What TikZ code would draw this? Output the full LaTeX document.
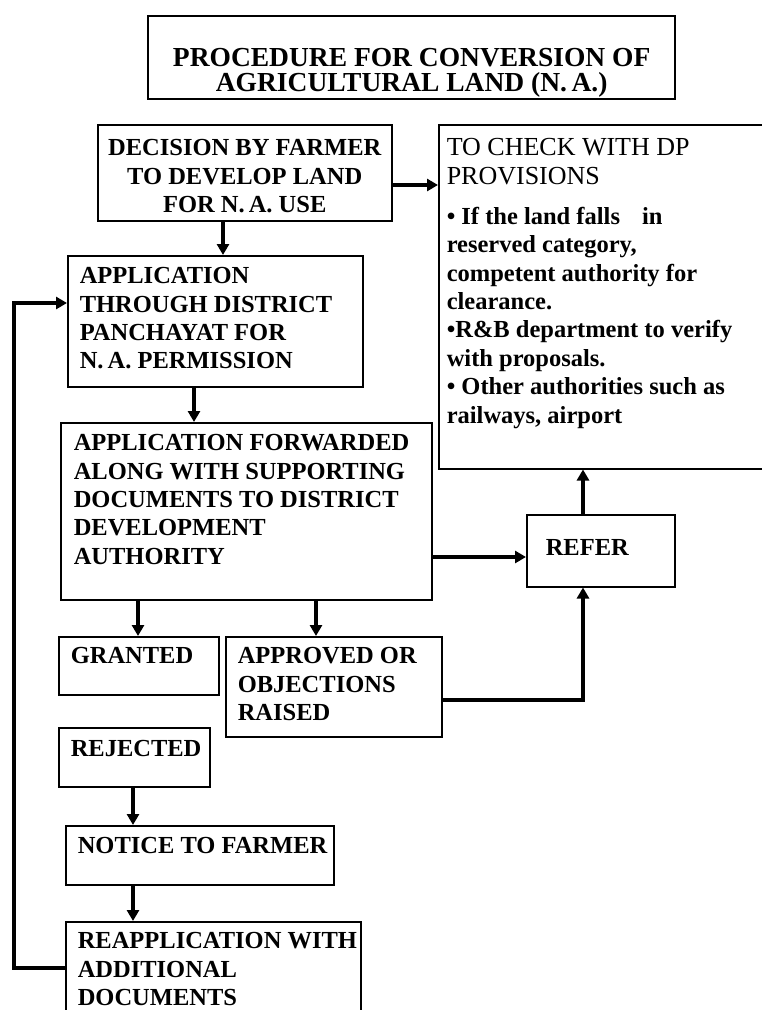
\documentclass[tikz,border=0pt]{standalone}
\usepackage{fontspec}
\setmainfont{Liberation Serif}
\usetikzlibrary{arrows.meta}

% fixed-size text cell: width, height, top gap, left pad, text (lines never wrap)
\newcommand{\cellL}[5]{\parbox[b][#2][t]{#1}{\vspace*{#3}\raggedright\leftskip=#4\relax\rightskip=-60pt plus 1fil\relax\noindent\rule{0pt}{17pt}#5\par}}
% fixed-size centred text cell: width, height, top gap, strut, text
\newcommand{\cellC}[5]{\parbox[b][#2][t]{#1}{\vspace*{#3}\centering\noindent\rule{0pt}{#4}#5\par}}

\tikzset{
  bx/.style={draw, line width=1.5pt, inner sep=0pt, anchor=north west,
    font=\bfseries\fontsize{24.5}{28.4}\selectfont},
  titlebox/.style={bx, line width=2.4pt, font=\bfseries\fontsize{27.5}{25}\selectfont},
  arr/.style={line width=3.6pt, -{Triangle[length=11pt,width=12pt]}}
}

\begin{document}
\begin{tikzpicture}[x=1pt,y=-1pt]
\useasboundingbox (0,0) rectangle (762,1010);
\fill[white] (0,0) rectangle (762,1010);
\clip (0,0) rectangle (762,1010);

% title
\node[titlebox] (title) at (147,15)
  {\cellC{527pt}{83pt}{32pt}{18pt}{PROCEDURE FOR CONVERSION OF\\AGRICULTURAL LAND (N.\,A.)}};

% main column
\node[bx] (dec) at (97,124)
  {\cellC{294pt}{96pt}{14pt}{17pt}{DECISION BY FARMER\\TO DEVELOP LAND\\FOR N.\,A. USE}};
\node[bx] (app) at (67,255)
  {\cellL{295pt}{131pt}{11pt}{12pt}{APPLICATION\\THROUGH DISTRICT\\PANCHAYAT FOR\\N.\,A. PERMISSION}};
\node[bx] (fwd) at (60,422)
  {\cellL{371pt}{177pt}{11pt}{13pt}{APPLICATION FORWARDED\\ALONG WITH SUPPORTING\\DOCUMENTS TO DISTRICT\\DEVELOPMENT\\AUTHORITY}};

% development plan check
\node[bx] (dp) at (438,124)
  {\cellL{340pt}{344pt}{14pt}{8pt}{{\mdseries\fontsize{26}{29}\selectfont TO CHECK WITH DP\\PROVISIONS\par}\vspace{11pt}
   \textbullet\ If the land falls\hspace{22pt}in\\reserved category,\\competent authority for\\clearance.\\
   \textbullet R\&B department to verify\\with proposals.\\
   \textbullet\ Other authorities such as\\railways, airport}};
\node[bx] (refer) at (526,514)
  {\cellL{148pt}{72pt}{24pt}{19pt}{REFER}};

% outcomes
\node[bx] (gr) at (58,636)
  {\cellL{160pt}{58pt}{10pt}{12pt}{GRANTED}};
\node[bx] (ap) at (225,636)
  {\cellL{216pt}{100pt}{10pt}{12pt}{APPROVED OR\\OBJECTIONS\\RAISED}};
\node[bx] (rej) at (58,727)
  {\cellL{151pt}{59pt}{12pt}{12pt}{REJECTED}};
\node[bx] (note) at (65,825)
  {\cellL{268pt}{59pt}{11pt}{12pt}{NOTICE TO FARMER}};
\node[bx] (reapp) at (65,921)
  {\cellL{295pt}{110pt}{10pt}{12pt}{REAPPLICATION WITH\\ADDITIONAL\\DOCUMENTS}};

\coordinate (back) at (14,0);

% connectors
\draw[arr] (dec.east |- 0,185) -- (dp.west |- 0,185);
\draw[arr] (dec.south -| 223,0) -- (app.north -| 223,0);
\draw[arr] (app.south -| 194,0) -- (fwd.north -| 194,0);
\draw[arr] (fwd.east |- 0,557) -- (refer.west |- 0,557);
\draw[arr] (refer.north -| 583,0) -- (dp.south -| 583,0);
\draw[arr] (fwd.south -| 138,0) -- (gr.north -| 138,0);
\draw[arr] (fwd.south -| 316,0) -- (ap.north -| 316,0);
\draw[arr] (ap.east |- 0,700) -| (refer.south -| 583,0);
\draw[arr] (rej.south -| 133,0) -- (note.north -| 133,0);
\draw[arr] (note.south -| 133,0) -- (reapp.north -| 133,0);
\draw[arr] (reapp.west |- 0,968) -| (back |- 0,303) -- (app.west |- 0,303);
\end{tikzpicture}
\end{document}
